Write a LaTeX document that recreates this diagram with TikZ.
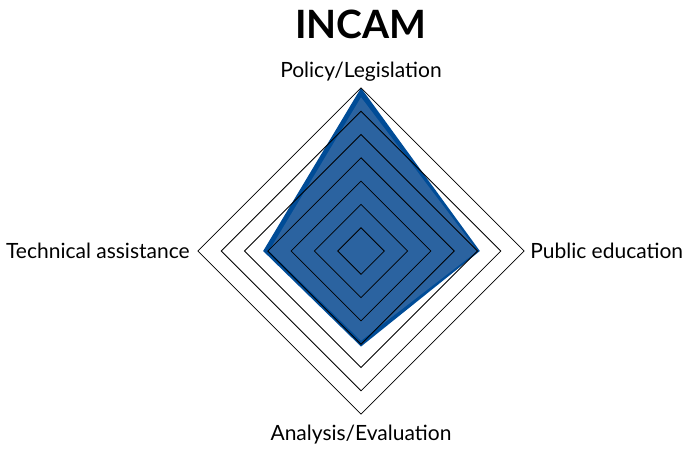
\documentclass[tikz,border=0pt]{standalone}
\usepackage{fontspec}
\setmainfont{Lato}
\usepackage{tikz}
\usetikzlibrary{positioning}
\definecolor{seriesdark}{RGB}{0,76,151}
\definecolor{serieslight}{RGB}{43,99,160}
\tikzstyle{ring} = [draw=black, line width=0.8pt]
\tikzstyle{axislabel} = [inner sep=0pt, font=\fontsize{21}{24}\selectfont]
\tikzset{x=23.3pt, y=23.3pt}

\begin{document}
\begin{tikzpicture}
    \useasboundingbox (-15.494,-8.455) rectangle (13.991,10.773);
    %title
    \node[anchor=base, font=\fontsize{39}{44}\selectfont\bfseries] (title) at (0,9.142) {INCAM};
    %series
    \fill[seriesdark] (0,7) -- (5.1,0) -- (0,-4.1) -- (-4.2,0) -- cycle;
    \fill[serieslight] (0,6.6) -- (5,0) -- (0,-3.85) -- (-3.95,0) -- cycle;
    %rings
    \foreach \r in {1,...,7}
        \draw[ring] (0,\r) -- (\r,0) -- (0,-\r) -- (-\r,0) -- cycle;
    %axis ends
    \coordinate (policy) at (0,7);
    \coordinate (public) at (7,0);
    \coordinate (analysis) at (0,-7);
    \coordinate (technical) at (-7,0);
    %labels
    \node[axislabel, above=6pt of policy] (policylabel) {Policy/Legislation};
    \node[axislabel, right=6pt of public] (publiclabel) {Public education};
    \node[axislabel, below=11pt of analysis] (analysislabel) {Analysis/Evaluation};
    \node[axislabel, left=8pt of technical] (technicallabel) {Technical assistance};
\end{tikzpicture}
\end{document}
